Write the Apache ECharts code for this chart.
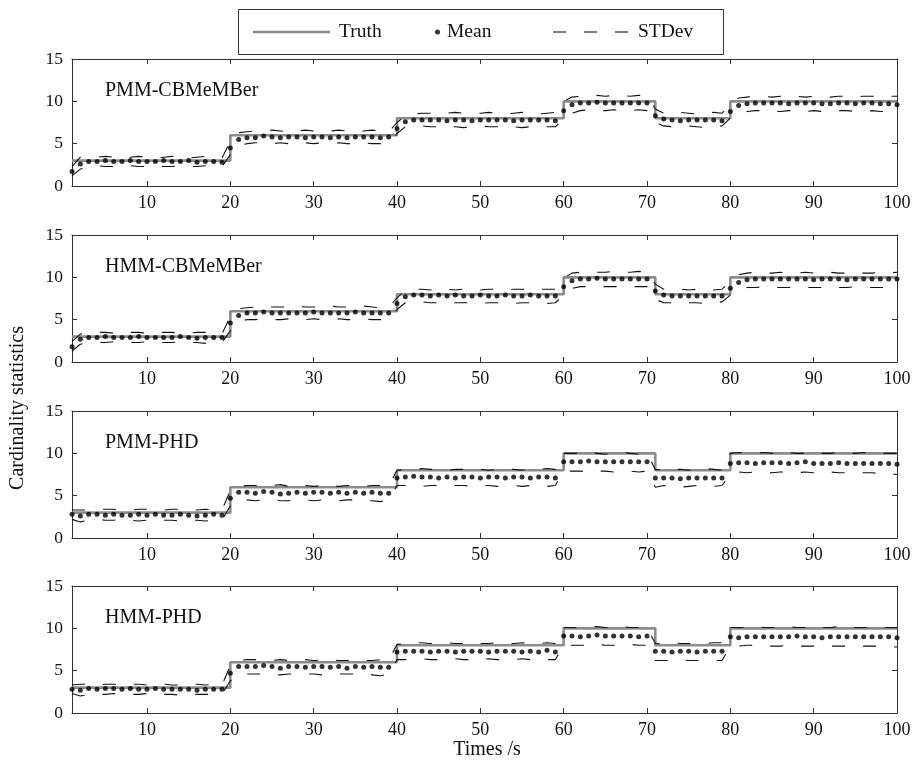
<!DOCTYPE html>
<html><head><meta charset="utf-8">
<script src="https://cdn.jsdelivr.net/npm/echarts@6/dist/echarts.min.js"></script>
<style>html,body{margin:0;padding:0;background:#fff}#c{width:914px;height:765px}</style>
</head><body><div id="c"></div>
<script>
const panelNames = ['PMM-CBMeMBer','HMM-CBMeMBer','PMM-PHD','HMM-PHD'];
const xTicks = [10,20,30,40,50,60,70,80,90,100];
const yTicks = [0,5,10,15];
const truth = [
3,3,3,3,3,3,3,3,3,3,3,3,3,3,3,3,3,3,3,
6,6,6,6,6,6,6,6,6,6,6,6,6,6,6,6,6,6,6,6,
8,8,8,8,8,8,8,8,8,8,8,8,8,8,8,8,8,8,8,8,
10,10,10,10,10,10,10,10,10,10,10,
8,8,8,8,8,8,8,8,8,
10,10,10,10,10,10,10,10,10,10,10,10,10,10,10,10,10,10,10,10,10];

const mean1 = [
1.7,2.6,2.9,2.9,3.0,2.9,2.9,3.0,2.9,2.9,2.9,3.0,2.9,2.9,3.0,2.8,2.9,2.9,2.8,
4.5,5.5,5.7,5.7,5.9,5.8,5.7,5.8,5.8,5.7,5.8,5.8,5.7,5.8,5.7,5.8,5.8,5.8,5.7,5.8,
6.8,7.6,7.8,7.8,7.8,7.8,7.7,7.8,7.8,7.7,7.8,7.8,7.8,7.8,7.7,7.8,7.8,7.8,7.8,7.7,
8.9,9.6,9.8,9.8,9.9,9.8,9.8,9.8,9.8,9.8,9.8,
8.3,7.9,7.8,7.7,7.8,7.8,7.8,7.8,7.7,
8.8,9.5,9.7,9.8,9.8,9.8,9.8,9.7,9.8,9.8,9.8,9.7,9.7,9.8,9.8,9.7,9.8,9.8,9.7,9.7,9.6];
const upper1 = [
2.3,3.4,3.4,3.4,3.5,3.4,3.3,3.4,3.5,3.4,3.3,3.4,3.5,3.4,3.3,3.4,3.5,3.4,3.3,
5.3,6.3,6.4,6.5,6.5,6.6,6.5,6.4,6.5,6.6,6.5,6.4,6.5,6.6,6.5,6.4,6.5,6.6,6.5,6.4,
7.5,8.3,8.5,8.6,8.6,8.5,8.6,8.7,8.6,8.5,8.6,8.7,8.6,8.5,8.6,8.7,8.6,8.5,8.6,8.7,
10.0,10.5,10.6,10.7,10.7,10.6,10.7,10.7,10.6,10.7,10.6,
9.1,8.6,8.6,8.7,8.6,8.5,8.6,8.7,8.6,
9.6,10.4,10.5,10.6,10.6,10.5,10.6,10.7,10.6,10.5,10.6,10.6,10.5,10.6,10.6,10.5,10.6,10.6,10.5,10.6,10.6];
const lower1 = [
1.2,2.0,2.3,2.4,2.3,2.3,2.4,2.4,2.3,2.3,2.4,2.3,2.3,2.4,2.3,2.3,2.4,2.3,2.3,
3.7,4.8,5.0,5.1,5.1,5.0,5.1,5.0,5.0,5.1,5.0,5.1,5.0,5.1,5.0,5.0,5.1,5.0,5.0,5.1,
6.2,7.0,7.0,7.1,7.0,7.0,7.1,7.0,6.9,7.0,7.1,7.0,7.0,7.1,7.0,6.9,7.0,7.1,7.0,7.0,
7.9,8.6,8.9,9.0,8.9,8.9,9.0,8.9,8.9,9.0,8.9,
7.5,7.1,7.0,7.0,7.1,7.0,6.9,7.0,7.1,
8.0,8.6,8.8,8.9,8.9,8.8,8.8,8.9,8.9,8.8,8.9,8.8,8.8,8.9,8.9,8.8,8.8,8.9,8.8,8.8,8.8];

const mean2 = [
1.8,2.7,2.9,2.9,3.0,2.9,2.9,2.9,3.0,2.9,2.9,2.9,2.9,3.0,2.9,2.8,2.9,2.9,2.9,
4.6,5.5,5.8,5.8,5.9,5.8,5.8,5.8,5.8,5.8,5.9,5.8,5.8,5.8,5.8,5.9,5.8,5.8,5.8,5.8,
6.9,7.7,7.9,7.9,7.8,7.9,7.8,7.9,7.8,7.8,7.9,7.8,7.8,7.9,7.8,7.8,7.9,7.8,7.8,7.8,
8.9,9.6,9.8,9.8,9.9,9.8,9.8,9.8,9.8,9.8,9.8,
8.4,7.9,7.8,7.8,7.8,7.8,7.8,7.8,7.8,
8.7,9.4,9.7,9.8,9.8,9.8,9.8,9.8,9.8,9.8,9.7,9.8,9.8,9.8,9.7,9.8,9.8,9.8,9.8,9.8,9.8];
const upper2 = [
2.4,3.3,3.4,3.5,3.5,3.4,3.4,3.5,3.5,3.4,3.4,3.5,3.5,3.4,3.4,3.5,3.5,3.4,3.3,
5.4,6.3,6.4,6.5,6.6,6.5,6.5,6.5,6.6,6.5,6.5,6.5,6.6,6.5,6.5,6.5,6.6,6.5,6.4,6.4,
7.6,8.4,8.6,8.6,8.5,8.6,8.6,8.5,8.6,8.6,8.5,8.6,8.6,8.5,8.6,8.6,8.5,8.6,8.6,8.6,
9.9,10.5,10.6,10.7,10.6,10.6,10.7,10.6,10.6,10.7,10.6,
9.2,8.6,8.6,8.6,8.5,8.6,8.6,8.5,8.6,
9.5,10.3,10.5,10.6,10.5,10.5,10.6,10.5,10.5,10.6,10.5,10.5,10.6,10.5,10.5,10.6,10.5,10.5,10.6,10.5,10.6];
const lower2 = [
1.3,2.1,2.3,2.3,2.3,2.4,2.3,2.3,2.3,2.4,2.3,2.3,2.3,2.4,2.3,2.3,2.2,2.3,2.3,
3.7,4.8,5.0,5.0,5.1,5.0,5.0,5.1,5.0,5.0,5.1,5.0,5.0,5.1,5.0,5.0,5.1,5.0,5.0,5.1,
6.2,7.0,7.0,7.1,7.0,7.0,6.9,7.0,7.0,7.0,6.9,7.0,7.0,7.0,6.9,7.0,7.0,7.0,6.9,7.0,
7.9,8.7,8.9,8.9,8.9,8.9,8.9,8.9,8.9,8.9,8.9,
7.4,7.0,7.0,6.9,7.0,7.0,6.9,7.0,7.1,
7.9,8.6,8.8,8.8,8.9,8.8,8.8,8.8,8.9,8.8,8.8,8.8,8.9,8.8,8.8,8.9,8.8,8.8,8.8,8.8,8.8];

const mean3 = [
2.8,2.6,2.8,2.8,2.7,2.8,2.7,2.7,2.8,2.7,2.8,2.7,2.7,2.8,2.7,2.6,2.7,2.8,2.7,
4.7,5.4,5.4,5.3,5.5,5.4,5.2,5.3,5.4,5.3,5.4,5.4,5.3,5.4,5.3,5.4,5.3,5.4,5.3,5.3,
7.1,7.2,7.3,7.2,7.2,7.1,7.2,7.1,7.2,7.2,7.1,7.2,7.2,7.1,7.2,7.2,7.1,7.2,7.2,7.1,
9.0,9.0,9.0,9.1,9.0,9.0,9.0,9.0,9.0,9.0,9.0,
7.1,7.1,7.1,7.0,7.1,7.1,7.1,7.1,7.1,
8.8,8.9,8.9,8.8,8.9,8.9,8.9,8.8,8.9,9.0,8.8,8.8,8.8,8.9,8.8,8.8,8.8,8.8,8.8,8.8,8.7];
const upper3 = [
3.3,3.3,3.3,3.4,3.4,3.4,3.3,3.3,3.4,3.4,3.3,3.3,3.4,3.4,3.3,3.3,3.4,3.3,3.3,
5.6,6.1,6.2,6.2,6.1,6.2,6.3,6.1,6.2,6.2,6.1,6.2,6.2,6.1,6.2,6.2,6.1,6.2,6.2,6.1,
8.0,8.1,8.1,8.2,8.1,8.1,8.0,8.1,8.1,8.2,8.1,8.0,8.1,8.2,8.1,8.0,8.1,8.1,8.2,8.1,
10.0,10.0,10.0,10.1,10.0,9.9,10.0,10.1,10.0,9.9,10.0,
8.1,8.0,8.1,8.1,8.0,8.1,8.2,8.1,8.0,
10.0,10.1,10.0,10.0,10.1,10.0,10.0,10.1,10.0,10.0,10.1,10.0,10.0,10.1,10.0,10.0,10.1,10.0,10.0,10.0,10.0];
const lower3 = [
2.2,1.9,2.1,2.2,2.1,2.1,2.2,2.1,2.0,2.1,2.2,2.1,2.1,2.0,2.1,2.1,2.0,2.1,2.1,
3.8,4.5,4.5,4.4,4.5,4.6,4.4,4.4,4.5,4.5,4.4,4.5,4.5,4.4,4.5,4.5,4.4,4.4,4.3,4.5,
6.2,6.2,6.2,6.1,6.2,6.2,6.1,6.2,6.2,6.1,6.2,6.2,6.1,6.2,6.2,6.1,6.2,6.2,6.1,6.2,
7.9,7.9,7.9,7.8,7.9,7.9,7.8,7.9,7.9,7.8,7.9,
6.0,6.2,6.1,6.0,6.1,6.2,6.1,6.1,6.2,
7.6,7.8,7.7,7.8,7.8,7.7,7.8,7.8,7.7,7.8,7.7,7.7,7.8,7.7,7.7,7.6,7.7,7.7,7.6,7.6,7.5];

const mean4 = [
2.8,2.7,2.9,2.8,2.9,2.9,2.8,2.9,2.8,2.8,2.9,2.8,2.8,2.8,2.8,2.7,2.8,2.8,2.8,
4.7,5.5,5.5,5.5,5.6,5.5,5.3,5.5,5.5,5.4,5.5,5.5,5.4,5.5,5.3,5.5,5.4,5.5,5.4,5.4,
7.2,7.3,7.3,7.3,7.2,7.3,7.3,7.2,7.3,7.3,7.3,7.2,7.3,7.3,7.3,7.2,7.3,7.2,7.4,7.2,
9.1,9.1,9.0,9.1,9.2,9.1,9.1,9.1,9.1,9.0,9.1,
7.3,7.3,7.2,7.3,7.3,7.2,7.3,7.3,7.3,
9.0,8.9,9.0,9.0,9.0,9.0,9.0,9.0,9.1,9.0,9.0,8.9,9.0,9.0,9.0,9.0,9.0,9.0,9.0,9.0,8.9];
const upper4 = [
3.3,3.4,3.4,3.3,3.4,3.4,3.3,3.4,3.4,3.3,3.4,3.4,3.3,3.3,3.4,3.4,3.3,3.4,3.3,
5.6,6.2,6.3,6.3,6.2,6.2,6.3,6.2,6.2,6.3,6.2,6.2,6.3,6.2,6.2,6.3,6.2,6.2,6.3,6.2,
8.1,8.2,8.3,8.3,8.2,8.2,8.3,8.2,8.2,8.3,8.2,8.2,8.3,8.2,8.2,8.3,8.2,8.2,8.3,8.2,
10.1,10.1,10.1,10.2,10.2,10.1,10.1,10.2,10.1,10.1,10.1,
8.2,8.2,8.3,8.2,8.2,8.2,8.2,8.3,8.3,
10.1,10.1,10.1,10.2,10.1,10.1,10.1,10.2,10.1,10.1,10.1,10.1,10.1,10.2,10.1,10.1,10.1,10.1,10.1,10.1,10.1];
const lower4 = [
2.3,2.0,2.2,2.2,2.2,2.3,2.2,2.2,2.2,2.3,2.2,2.2,2.2,2.1,2.2,2.2,2.2,2.2,2.2,
3.8,4.6,4.6,4.6,4.6,4.5,4.5,4.6,4.6,4.6,4.6,4.5,4.5,4.6,4.6,4.6,4.5,4.5,4.4,4.6,
6.3,6.3,6.4,6.4,6.3,6.3,6.4,6.4,6.3,6.3,6.3,6.4,6.3,6.3,6.3,6.4,6.3,6.3,6.3,6.3,
8.0,8.0,8.0,8.0,8.1,8.0,8.0,8.0,8.1,8.0,8.0,
6.2,6.2,6.2,6.3,6.2,6.2,6.2,6.2,6.2,
7.9,7.9,8.0,8.0,7.9,7.9,7.9,8.0,7.9,7.9,7.9,7.9,7.9,7.9,7.9,7.9,7.9,7.9,7.9,7.8,7.8];

const means = [mean1, mean2, mean3, mean4];
const uppers = [upper1, upper2, upper3, upper4];
const lowers = [lower1, lower2, lower3, lower4];

const FONT = '"Liberation Serif", "DejaVu Serif", serif';
const AX = '#333';
const gridTops = [59, 235, 411, 586];
const GH = 127;
const pairs = arr => arr.map((v, i) => [i + 1, v]);

const grid = [], xAxis = [], yAxis = [], series = [], graphic = [], title = [];
gridTops.forEach((top, g) => {
  grid.push({left: 72, right: 17, top: top, height: GH});
  const tickStyle = {show: true, inside: true, length: 5, lineStyle: {color: AX, width: 1}};
  xAxis.push({gridIndex: g, type: 'value', min: 1, max: 100, position: 'bottom',
    axisLine: {show: true, onZero: false, lineStyle: {color: AX, width: 1}},
    axisTick: Object.assign({customValues: xTicks}, tickStyle),
    axisLabel: {customValues: xTicks, color: '#111', fontFamily: FONT, fontSize: 18, margin: 8},
    splitLine: {show: false}});
  xAxis.push({gridIndex: g, type: 'value', min: 1, max: 100, position: 'top',
    axisLine: {show: true, onZero: false, lineStyle: {color: AX, width: 1}},
    axisTick: Object.assign({customValues: xTicks}, tickStyle),
    axisLabel: {show: false}, splitLine: {show: false}});
  yAxis.push({gridIndex: g, type: 'value', min: 0, max: 15, interval: 5, position: 'left',
    axisLine: {show: true, onZero: false, lineStyle: {color: AX, width: 1}},
    axisTick: tickStyle,
    axisLabel: {color: '#111', fontFamily: FONT, fontSize: 17.5, margin: 9},
    splitLine: {show: false}});
  yAxis.push({gridIndex: g, type: 'value', min: 0, max: 15, interval: 5, position: 'right',
    axisLine: {show: true, onZero: false, lineStyle: {color: AX, width: 1}},
    axisTick: tickStyle, axisLabel: {show: false}, splitLine: {show: false}});
  const xi = g * 2, yi = g * 2;
  series.push({name: 'Truth', type: 'line', step: 'end', xAxisIndex: xi, yAxisIndex: yi,
    data: pairs(truth), symbol: 'none', lineStyle: {color: '#8c8c8c', width: 2.6}, itemStyle: {color: '#8c8c8c'},
    animation: false, z: 2});
  series.push({name: 'STDev', type: 'line', xAxisIndex: xi, yAxisIndex: yi, data: pairs(uppers[g]),
    symbol: 'none', lineStyle: {color: '#111', width: 1.1, type: [13, 18]}, itemStyle: {color: '#111'},
    animation: false, z: 3});
  series.push({name: 'STDev', type: 'line', xAxisIndex: xi, yAxisIndex: yi, data: pairs(lowers[g]),
    symbol: 'none', lineStyle: {color: '#111', width: 1.1, type: [13, 18]}, itemStyle: {color: '#111'},
    animation: false, z: 3});
  series.push({name: 'Mean', type: 'scatter', xAxisIndex: xi, yAxisIndex: yi, data: pairs(means[g]),
    symbol: 'circle', symbolSize: 5, itemStyle: {color: '#000'}, animation: false, z: 4});
  title.push({text: panelNames[g], left: 105, top: top + 22,
    textStyle: {fontFamily: FONT, fontSize: 20, fontWeight: 'normal', color: '#111'}, padding: 0});
});

graphic.push({type: 'rect', shape: {x: 238.5, y: 9.5, width: 485, height: 45},
  style: {fill: 'none', stroke: '#333', lineWidth: 1}});
graphic.push({type: 'text', x: 18, y: 408, rotation: Math.PI / 2,
  style: {text: 'Cardinality statistics', font: '20px ' + FONT, fill: '#111', align: 'center', verticalAlign: 'middle'}});
graphic.push({type: 'text', x: 487, y: 750,
  style: {text: 'Times /s', font: '20px ' + FONT, fill: '#111', align: 'center', verticalAlign: 'middle'}});

const legTxt = {fontFamily: FONT, fontSize: 19.5, color: '#111', padding: [0, 0, 0, 4]};
const legend = [
  {data: [{name: 'Truth', icon: 'rect', itemStyle: {color: '#8c8c8c', borderWidth: 0}}],
   left: 253, top: 22, itemWidth: 77, itemHeight: 2.5, textStyle: legTxt, padding: 0, selectedMode: false},
  {data: [{name: 'Mean', icon: 'circle', itemStyle: {color: '#000', borderWidth: 0}}],
   left: 435, top: 22, itemWidth: 5, itemHeight: 5, textStyle: Object.assign({}, legTxt, {padding: [0, 0, 0, 2]}), padding: 0, selectedMode: false},
  {data: [{name: 'STDev', icon: 'path://M0,0h13v1h-13z M31,0h13v1h-13z M62,0h13v1h-13z', itemStyle: {color: '#000', borderWidth: 0}}],
   left: 553, top: 22, itemWidth: 75, itemHeight: 1.8, textStyle: Object.assign({}, legTxt, {padding: [0, 0, 0, 5]}), padding: 0, selectedMode: false}
];

const chart = echarts.init(document.getElementById('c'), null, {renderer: 'canvas'});
chart.setOption({backgroundColor: '#fff', animation: false, grid, xAxis, yAxis, series, title, legend, graphic});
</script></body></html>
